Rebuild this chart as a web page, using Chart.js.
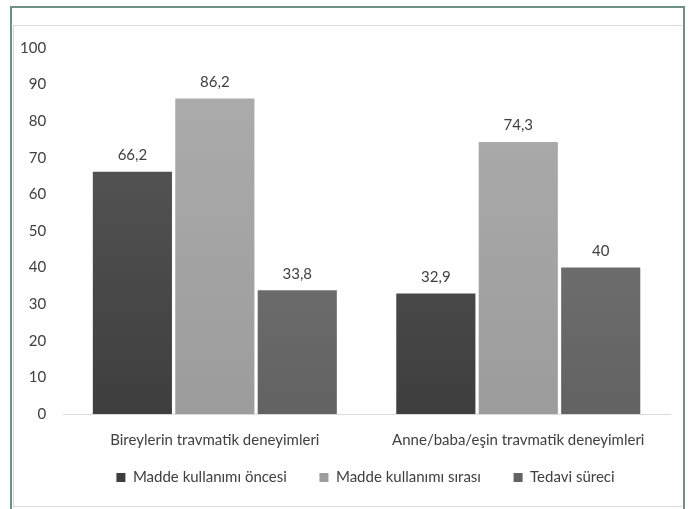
<!DOCTYPE html>
<html>
<head>
<meta charset="utf-8">
<script src="https://cdn.jsdelivr.net/npm/chart.js@4/dist/chart.umd.min.js"></script>
<style>
  html, body { margin: 0; padding: 0; background: #fff; }
  body { width: 693px; height: 509px; position: relative; overflow: hidden; }
  #frame { position: absolute; left: 10px; top: 6px; width: 671px; height: 510px; border: 2px solid #6e9186; box-sizing: content-box; }
  #inner { position: absolute; left: 13px; top: 25px; width: 668px; height: 480px; border: 1px solid #d9d9d9; border-right: none; }
  #wrap { position: absolute; left: 0; top: 0; width: 693px; height: 509px; }
</style>
</head>
<body>
<div id="frame"></div>
<div id="inner"></div>
<div id="wrap"><canvas id="barChart"></canvas></div>
<script>
const categories = ['Bireylerin travmatik deneyimleri', 'Anne/baba/eşin travmatik deneyimleri'];
const seriesNames = ['Madde kullanımı öncesi', 'Madde kullanımı sırası', 'Tedavi süreci'];
const beforeUse = [66.2, 32.9];
const duringUse = [86.2, 74.3];
const treatment = [33.8, 40];
const yTicks = [0, 10, 20, 30, 40, 50, 60, 70, 80, 90, 100];

const shades = [
    ['#5c5c5c', '#3e3e3e'],
    ['#adadad', '#9c9c9c'],
    ['#7c7c7c', '#626262']
];
const FONT = 'Lato, "Open Sans", sans-serif';

function gradientFor(idx) {
    return function (context) {
        const chart = context.chart;
        const area = chart.chartArea;
        if (!area) return shades[idx][0];
        const g = chart.ctx.createLinearGradient(0, area.top, 0, area.bottom);
        g.addColorStop(0, shades[idx][0]);
        g.addColorStop(1, shades[idx][1]);
        return g;
    };
}

const valueLabels = {
    id: 'valueLabels',
    afterDatasetsDraw(chart) {
        const ctx = chart.ctx;
        ctx.save();
        ctx.font = '15px ' + FONT;
        ctx.fillStyle = '#404040';
        ctx.textAlign = 'center';
        ctx.textBaseline = 'bottom';
        chart.data.datasets.forEach((ds, i) => {
            chart.getDatasetMeta(i).data.forEach((bar, j) => {
                ctx.fillText(String(ds.data[j]).replace('.', ','), bar.x, bar.y - 9);
            });
        });
        ctx.restore();
    }
};

// nudge the legend row to the right, like the original
const legendShift = {
    id: 'legendShift',
    afterLayout(chart) {
        chart.legend.left += 25;
        chart.legend.right += 25;
    }
};

const ctx = document.getElementById('barChart').getContext('2d');
new Chart(ctx, {
    type: 'bar',
    data: {
        labels: categories,
        datasets: [beforeUse, duringUse, treatment].map((vals, i) => ({
            label: seriesNames[i],
            data: vals,
            backgroundColor: gradientFor(i),
            borderWidth: 0,
            categoryPercentage: 0.815,
            barPercentage: 0.96
        }))
    },
    options: {
        responsive: true,
        maintainAspectRatio: false,
        animation: false,
        layout: { padding: { left: 11, right: 23, top: 48, bottom: 14 } },
        scales: {
            x: {
                grid: { display: false },
                border: { display: true, color: '#d9d9d9', width: 1 },
                ticks: { color: '#404040', font: { size: 15, family: FONT }, padding: 9 }
            },
            y: {
                min: 0,
                max: 100,
                afterBuildTicks(axis) { axis.ticks = yTicks.map(v => ({ value: v })); },
                grid: { display: false },
                border: { display: false },
                ticks: { color: '#404040', font: { size: 15, family: FONT }, padding: 9 }
            }
        },
        plugins: {
            legend: {
                position: 'bottom',
                labels: {
                    boxWidth: 9,
                    boxHeight: 9,
                    padding: 12,
                    color: '#404040',
                    font: { size: 15, family: FONT },
                    generateLabels(chart) {
                        const items = Chart.defaults.plugins.legend.labels.generateLabels(chart);
                        items.forEach((it, i) => {
                            it.fillStyle = shades[i][1];
                            it.lineWidth = 0;
                            if (i < items.length - 1) it.text = it.text + '\u2003\u2002\u2009';
                        });
                        return items;
                    }
                }
            },
            tooltip: { enabled: false }
        }
    },
    plugins: [valueLabels, legendShift]
});
</script>
</body>
</html>
